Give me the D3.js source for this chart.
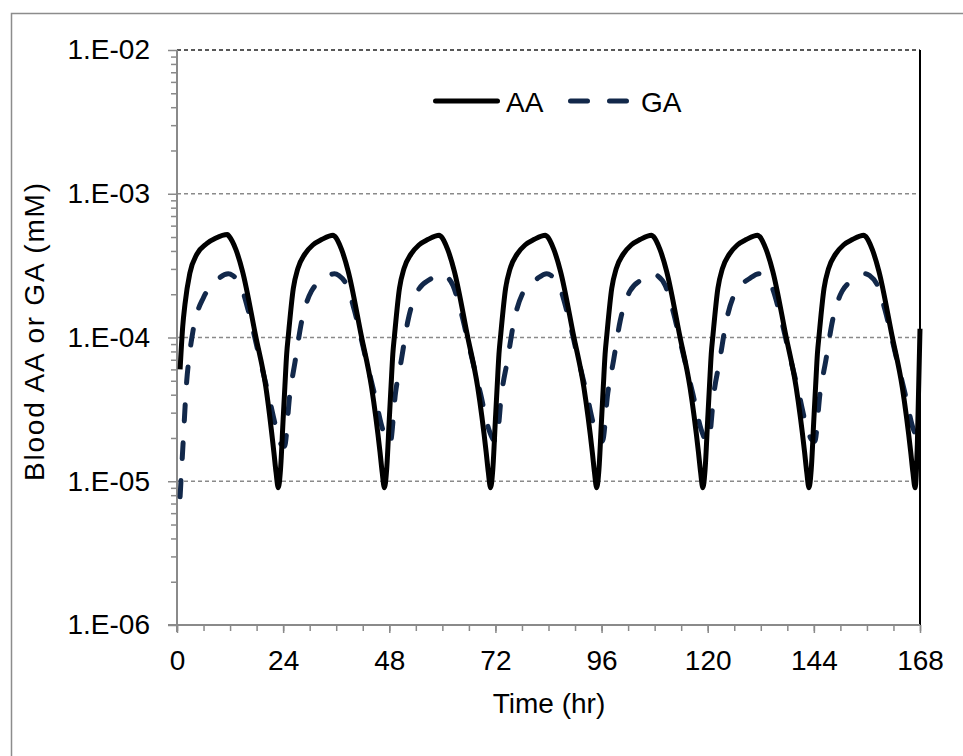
<!DOCTYPE html>
<html>
<head>
<meta charset="utf-8">
<script src="https://cdn.jsdelivr.net/npm/d3@7"></script>
<style>
  body { margin: 0; background: #fff; }
  text { font-family: "Liberation Sans", Arial, sans-serif; fill: #000; }
</style>
</head>
<body>
<div id="chart"></div>
<script>
// series data, [time (hr), concentration (mM)]
var aaSeries = [
  [0.7,6.0e-5],[1.3,1.2e-4],[1.8,1.7e-4],[2.9,2.8e-4],[4.5,3.8e-4],[6.7,4.5e-4],[8.7,4.9e-4],[11.4,5.2e-4],[11.8,5.05e-4],
  [13.3,4.1e-4],[14.8,2.9e-4],[17.8,1.02e-4],[20.1,4.5e-5],[21.9,1.6e-5],[22.4,1.15e-5],[22.9,9.0e-6],[23.4,1.2e-5],
  [24.0,2.7e-5],[24.4,4.6e-5],[24.8,7.7e-5],[25.2,1.05e-4],[26.3,2.2e-4],[27.3,3.0e-4],[28.9,3.8e-4],[30.7,4.4e-4],[32.7,4.8e-4],
  [35.3,5.15e-4],[35.7,5.05e-4],[37.2,4.1e-4],[38.7,2.9e-4],[41.7,1.02e-4],[44.0,4.5e-5],[45.9,1.6e-5],[46.4,1.15e-5],[46.9,9.0e-6],[47.4,1.2e-5],
  [48.0,2.7e-5],[48.4,4.6e-5],[48.8,7.7e-5],[49.2,1.05e-4],[50.3,2.2e-4],[51.3,3.0e-4],[52.9,3.8e-4],[54.7,4.4e-4],[56.7,4.8e-4],
  [59.3,5.15e-4],[59.7,5.05e-4],[61.2,4.1e-4],[62.7,2.9e-4],[65.7,1.02e-4],[68.0,4.5e-5],[69.9,1.6e-5],[70.4,1.15e-5],[70.9,9.0e-6],[71.4,1.2e-5],
  [72.0,2.7e-5],[72.4,4.6e-5],[72.8,7.7e-5],[73.2,1.05e-4],[74.3,2.2e-4],[75.3,3.0e-4],[76.9,3.8e-4],[78.7,4.4e-4],[80.7,4.8e-4],
  [83.3,5.15e-4],[83.7,5.05e-4],[85.2,4.1e-4],[86.7,2.9e-4],[89.7,1.02e-4],[92.0,4.5e-5],[93.9,1.6e-5],[94.4,1.15e-5],[94.9,9.0e-6],[95.4,1.2e-5],
  [96.0,2.7e-5],[96.4,4.6e-5],[96.8,7.7e-5],[97.2,1.05e-4],[98.3,2.2e-4],[99.3,3.0e-4],[100.9,3.8e-4],[102.7,4.4e-4],[104.7,4.8e-4],
  [107.3,5.15e-4],[107.7,5.05e-4],[109.2,4.1e-4],[110.7,2.9e-4],[113.7,1.02e-4],[116.0,4.5e-5],[117.9,1.6e-5],[118.4,1.15e-5],[118.9,9.0e-6],[119.4,1.2e-5],
  [120.0,2.7e-5],[120.4,4.6e-5],[120.8,7.7e-5],[121.2,1.05e-4],[122.3,2.2e-4],[123.3,3.0e-4],[124.9,3.8e-4],[126.7,4.4e-4],[128.7,4.8e-4],
  [131.3,5.15e-4],[131.7,5.05e-4],[133.2,4.1e-4],[134.7,2.9e-4],[137.7,1.02e-4],[140.0,4.5e-5],[141.9,1.6e-5],[142.4,1.15e-5],[142.9,9.0e-6],[143.4,1.2e-5],
  [144.0,2.7e-5],[144.4,4.6e-5],[144.8,7.7e-5],[145.2,1.05e-4],[146.3,2.2e-4],[147.3,3.0e-4],[148.9,3.8e-4],[150.7,4.4e-4],[152.7,4.8e-4],
  [155.3,5.15e-4],[155.7,5.05e-4],[157.2,4.1e-4],[158.7,2.9e-4],[161.7,1.02e-4],[164.0,4.5e-5],[165.9,1.6e-5],[166.4,1.15e-5],[166.9,9.0e-6],[167.4,1.8e-5],
  [168.0,1.15e-4]
];

var gaSeries = [
  [0.7,7.8e-6],[1.4,1.9e-5],[2.2,5.0e-5],[2.8,7.5e-5],[3.7,1.15e-4],[6.0,1.9e-4],[8.2,2.35e-4],[11.6,2.78e-4],[12.6,2.7e-4],
  [14.4,2.3e-4],[16.1,1.55e-4],[18.4,7.8e-5],[20.6,4.1e-5],[22.5,2.3e-5],[23.6,1.8e-5],
  [24.3,1.75e-5],[25.5,4.0e-5],[26.7,6.8e-5],[28.2,1.3e-4],[30.4,2.1e-4],[33.4,2.56e-4],[35.6,2.78e-4],[36.6,2.7e-4],
  [38.4,2.3e-4],[40.1,1.55e-4],[42.4,7.8e-5],[44.6,4.1e-5],[46.5,2.3e-5],[47.5,1.9e-5],
  [48.2,1.85e-5],[49.4,4.1e-5],[50.7,6.9e-5],[52.2,1.3e-4],[54.4,2.1e-4],[57.4,2.56e-4],[59.6,2.78e-4],[60.6,2.7e-4],
  [62.4,2.3e-4],[64.1,1.55e-4],[66.4,7.8e-5],[68.6,4.1e-5],[70.5,2.3e-5],[71.5,1.95e-5],
  [72.2,1.9e-5],[73.4,4.1e-5],[74.7,6.9e-5],[76.2,1.3e-4],[78.4,2.1e-4],[81.4,2.56e-4],[83.6,2.78e-4],[84.6,2.7e-4],
  [86.4,2.3e-4],[88.1,1.55e-4],[90.4,7.8e-5],[92.6,4.1e-5],[94.5,2.3e-5],[95.5,1.95e-5],
  [96.2,1.9e-5],[97.4,4.1e-5],[98.7,6.9e-5],[100.2,1.3e-4],[102.4,2.1e-4],[105.4,2.56e-4],[107.6,2.78e-4],[108.6,2.7e-4],
  [110.4,2.3e-4],[112.1,1.55e-4],[114.4,7.8e-5],[116.6,4.1e-5],[118.5,2.3e-5],[119.5,1.95e-5],
  [120.2,1.9e-5],[121.4,4.1e-5],[122.7,6.9e-5],[124.2,1.3e-4],[126.4,2.1e-4],[129.4,2.56e-4],[131.6,2.78e-4],[132.6,2.7e-4],
  [134.4,2.3e-4],[136.1,1.55e-4],[138.4,7.8e-5],[140.6,4.1e-5],[142.5,2.3e-5],[143.5,1.95e-5],
  [144.2,1.9e-5],[145.4,4.1e-5],[146.7,6.9e-5],[148.2,1.3e-4],[150.4,2.1e-4],[153.4,2.56e-4],[155.6,2.78e-4],[156.6,2.7e-4],
  [158.4,2.3e-4],[160.1,1.55e-4],[162.4,7.8e-5],[164.6,4.1e-5],[166.5,2.3e-5],[167.5,2.0e-5],[168.0,1.9e-5]
];

var xTicks = [0, 24, 48, 72, 96, 120, 144, 168];
var yTicks = [1e-6, 1e-5, 1e-4, 1e-3, 1e-2];
var yTickLabels = ["1.E-06", "1.E-05", "1.E-04", "1.E-03", "1.E-02"];
var seriesNames = ["AA", "GA"];

var W = 963, H = 756;
var plot = {left: 177, top: 50, right: 920, bottom: 625};

var svg = d3.select("#chart").append("svg")
  .attr("width", W).attr("height", H);

// outer chart frame
svg.append("rect")
  .attr("x", 11.5).attr("y", 13.5)
  .attr("width", 1000).attr("height", 1000)
  .attr("fill", "none").attr("stroke", "#8c8c8c").attr("stroke-width", 1.5);

var x = d3.scaleLinear().domain([0, 168]).range([plot.left, plot.right]);
var y = d3.scaleLog().domain([1e-6, 1e-2]).range([plot.bottom, plot.top]);

// gridlines
svg.append("g").selectAll("line")
  .data(yTicks.slice(1))
  .join("line")
  .attr("x1", plot.left).attr("x2", plot.right)
  .attr("y1", function (d) { return y(d); })
  .attr("y2", function (d) { return y(d); })
  .attr("stroke", function (d) { return d === 1e-2 ? "#222" : "#8a8a8a"; })
  .attr("stroke-width", function (d) { return d === 1e-2 ? 1.6 : 1.3; })
  .attr("stroke-dasharray", "4,3");

// right edge of plot area
svg.append("line")
  .attr("x1", plot.right).attr("x2", plot.right)
  .attr("y1", plot.top).attr("y2", plot.bottom)
  .attr("stroke", "#000").attr("stroke-width", 2);

// minor ticks on the log axis
var yMinor = [];
yTicks.slice(0, -1).forEach(function (d) {
  d3.range(2, 10).forEach(function (k) { yMinor.push(d * k); });
});

var yAxisMinor = svg.append("g")
  .attr("transform", "translate(" + plot.left + ",0)")
  .call(d3.axisLeft(y).tickValues(yMinor).tickSize(6).tickFormat(""));

var yAxis = svg.append("g")
  .attr("transform", "translate(" + plot.left + ",0)")
  .call(d3.axisLeft(y).tickValues(yTicks).tickSize(9).tickPadding(18)
    .tickFormat(function (d, i) { return yTickLabels[i]; }));

var xMinor = d3.range(0, 169, 6);
var xAxisMinor = svg.append("g")
  .attr("transform", "translate(0," + plot.bottom + ")")
  .call(d3.axisBottom(x).tickValues(xMinor).tickSize(6).tickFormat(""));

var xAxis = svg.append("g")
  .attr("transform", "translate(0," + plot.bottom + ")")
  .call(d3.axisBottom(x).tickValues(xTicks).tickSize(8).tickPadding(17));

[yAxisMinor, yAxis, xAxisMinor, xAxis].forEach(function (a) {
  a.select(".domain").remove();
  a.selectAll(".tick line").attr("stroke", "#8a8a8a").attr("stroke-width", 1.5);
});
[yAxis, xAxis].forEach(function (a) {
  a.selectAll(".tick text")
    .style("font-family", '"Liberation Sans", Arial, sans-serif')
    .style("font-size", "28px")
    .attr("fill", "#000");
});

// axis lines
svg.append("line")
  .attr("x1", plot.left).attr("x2", plot.left)
  .attr("y1", plot.top).attr("y2", plot.bottom + 7)
  .attr("stroke", "#8a8a8a").attr("stroke-width", 2);
svg.append("line")
  .attr("x1", plot.left - 9).attr("x2", plot.right)
  .attr("y1", plot.bottom).attr("y2", plot.bottom)
  .attr("stroke", "#8a8a8a").attr("stroke-width", 2);

// series lines
var line = d3.line()
  .x(function (d) { return x(d[0]); })
  .y(function (d) { return y(d[1]); })
  .curve(d3.curveMonotoneX);

svg.append("path")
  .datum(gaSeries)
  .attr("d", line)
  .attr("fill", "none")
  .attr("stroke", "#12284a")
  .attr("stroke-width", 5)
  .attr("stroke-linecap", "round")
  .attr("stroke-dasharray", "16,22");

svg.append("path")
  .datum(aaSeries)
  .attr("d", line)
  .attr("fill", "none")
  .attr("stroke", "#000")
  .attr("stroke-width", 5)
  .attr("stroke-linejoin", "round");

// legend
var legend = svg.append("g");
legend.append("line")
  .attr("x1", 435.5).attr("x2", 497.5).attr("y1", 101).attr("y2", 101)
  .attr("stroke", "#000").attr("stroke-width", 5).attr("stroke-linecap", "round");
legend.append("text")
  .attr("x", 506).attr("y", 112)
  .style("font-size", "28px")
  .text(seriesNames[0]);
legend.append("line")
  .attr("x1", 570.5).attr("x2", 628).attr("y1", 101).attr("y2", 101)
  .attr("stroke", "#12284a").attr("stroke-width", 5).attr("stroke-linecap", "round")
  .attr("stroke-dasharray", "17,22");
legend.append("text")
  .attr("x", 641).attr("y", 112)
  .style("font-size", "28px")
  .text(seriesNames[1]);

// axis titles
svg.append("text")
  .attr("x", 549).attr("y", 713)
  .attr("text-anchor", "middle")
  .style("font-size", "28px")
  .text("Time (hr)");

svg.append("text")
  .attr("transform", "translate(44,332) rotate(-90)")
  .attr("text-anchor", "middle")
  .attr("textLength", 298)
  .attr("lengthAdjust", "spacing")
  .style("font-size", "28px")
  .text("Blood AA or GA  (mM)");
</script>
</body>
</html>
